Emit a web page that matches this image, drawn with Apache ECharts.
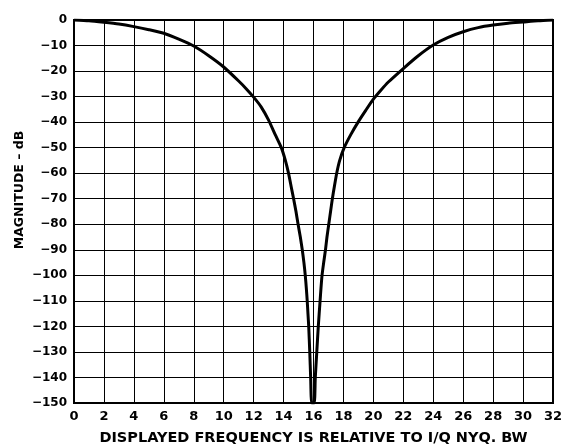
<!DOCTYPE html>
<html>
<head>
<meta charset="utf-8">
<script src="https://cdn.jsdelivr.net/npm/echarts@6/dist/echarts.min.js"></script>
<style>html,body{margin:0;padding:0;background:#fff;}#c{width:563px;height:445px;}</style>
</head>
<body>
<div id="c"></div>
<script>
const freq = [0,1,2,3,4,5,6,7,8,9,10,11,11.5,12,12.5,13,13.45,13.85,14.12,14.33,14.5,14.67,14.83,14.97,15.12,15.25,15.36,15.45,15.52,15.58,15.63,15.68,15.75,15.81,15.88,
  16.05,16.12,16.22,16.32,16.44,16.5,16.57,16.68,16.8,16.9,17.02,17.14,17.26,17.4,17.55,17.75,18.05,18.5,19.0,19.5,20,20.5,21,22,23,24,25,26,27,28,29,30,31,32];
const magnitude = [0,-0.3,-0.9,-1.6,-2.6,-3.8,-5.2,-7.5,-10.2,-14,-18.4,-23.9,-26.9,-30.2,-34,-39.2,-45,-50,-55,-60,-65,-70,-75,-80,-85,-90,-95,-100,-105,-110,-115,-120,-130,-140,-150,
  -150,-140,-130,-120,-110,-105,-100,-95,-90,-85,-80,-75,-70,-65,-60,-55,-50,-44.8,-39.8,-35.3,-31,-27.5,-24.3,-19,-14,-9.8,-6.8,-4.6,-3,-2,-1.3,-0.8,-0.3,0];
const xTitle = 'DISPLAYED FREQUENCY IS RELATIVE TO I/Q NYQ. BW';
const yTitle = 'MAGNITUDE – dB';

const FONT = '"DejaVu Sans", sans-serif';
const chart = echarts.init(document.getElementById('c'), null, {renderer: 'canvas'});
chart.setOption({
  animation: false,
  backgroundColor: '#fff',
  grid: {left: 74, right: 10, top: 20, bottom: 42, show: true, borderColor: '#000', borderWidth: 2,
    containLabel: false, outerBoundsMode: 'none'},
  xAxis: {
    type: 'value', min: 0, max: 32, interval: 2,
    axisLine: {show: true, lineStyle: {color: '#000', width: 2}},
    axisTick: {show: false},
    axisLabel: {color: '#000', fontFamily: FONT, fontWeight: 'bold', fontSize: 13, margin: 7},
    splitLine: {show: true, lineStyle: {color: '#000', width: 1}},
    name: xTitle, nameLocation: 'middle', nameGap: 28,
    nameTextStyle: {color: '#000', fontFamily: FONT, fontWeight: 'bold', fontSize: 14.5}
  },
  yAxis: {
    type: 'value', min: -150, max: 0, interval: 10,
    axisLine: {show: true, lineStyle: {color: '#000', width: 2}},
    axisTick: {show: false},
    axisLabel: {color: '#000', fontFamily: FONT, fontWeight: 'bold', fontSize: 12, margin: 7,
      formatter: v => String(v).replace('-', '\u2212')},
    splitLine: {show: true, lineStyle: {color: '#000', width: 1}}
  },
  graphic: [{
    type: 'text', x: 20, y: 190, rotation: Math.PI / 2,
    style: {text: yTitle, fill: '#000', font: 'bold 12.5px "DejaVu Sans", sans-serif', textAlign: 'center', textVerticalAlign: 'middle'}
  }],
  series: [{
    type: 'line',
    data: freq.map((f, i) => [f, magnitude[i]]),
    showSymbol: false,
    smooth: 0.2,
    lineStyle: {color: '#000', width: 3},
    clip: true
  }]
});
</script>
</body>
</html>
